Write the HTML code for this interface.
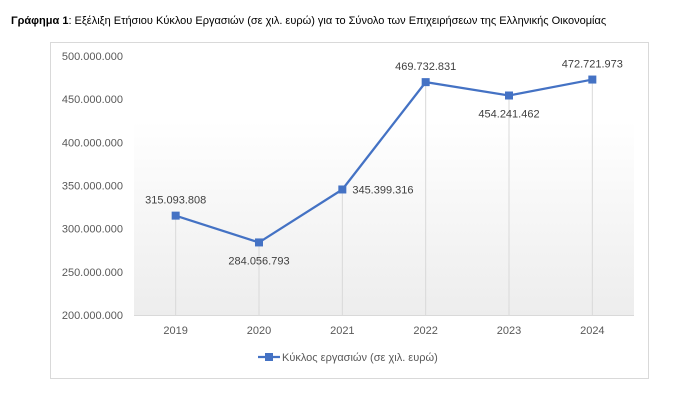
<!DOCTYPE html>
<html><head><meta charset="utf-8"><style>
body{margin:0;width:694px;height:415px;background:#fff;font-family:"Liberation Sans",sans-serif;}
#title{position:absolute;left:11px;top:15px;font-size:11px;color:#000;white-space:nowrap;}
svg{position:absolute;left:0;top:0;}
</style></head><body>
<div id="title"><b>Γράφημα 1</b>: Εξέλιξη Ετήσιου Κύκλου Εργασιών (σε χιλ. ευρώ) για το Σύνολο των Επιχειρήσεων της Ελληνικής Οικονομίας</div>
<svg id="chart" width="694" height="415">
<defs><linearGradient id="bg" x1="0" y1="0" x2="0" y2="1"><stop offset="0" stop-color="#fff"/><stop offset="0.25" stop-color="#fff"/><stop offset="1" stop-color="#ededed"/></linearGradient></defs>
<rect x="50.5" y="42.5" width="598" height="336" fill="#fff" stroke="#d9d9d9"/>
<g id="g"></g>
</svg>
<script>
const categories=["2019","2020","2021","2022","2023","2024"];
const values=[315093808,284056793,345399316,469732831,454241462,472721973];
const labels=["315.093.808","284.056.793","345.399.316","469.732.831","454.241.462","472.721.973"];
const yTicks=[200000000,250000000,300000000,350000000,400000000,450000000,500000000];
const yTickLabels=["200.000.000","250.000.000","300.000.000","350.000.000","400.000.000","450.000.000","500.000.000"];
const NS="http://www.w3.org/2000/svg",g=document.getElementById("g");
const x0=134,x1=634,yTop=56,yBot=315,vMin=200000000,vMax=500000000;
const bw=(x1-x0)/categories.length;
const X=i=>x0+bw*(i+0.5);
const Y=v=>yBot-(v-vMin)/(vMax-vMin)*(yBot-yTop);
function mk(t,a){const e=document.createElementNS(NS,t);for(const k in a)e.setAttribute(k,a[k]);g.appendChild(e);return e;}
let e=mk("rect",{x:x0,y:yTop,width:x1-x0,height:yBot-yTop,fill:"url(#bg)"});


yTicks.forEach((v,i)=>{const t=mk("text",{x:123,y:Y(v)+4,"text-anchor":"end","font-size":"11",fill:"#595959"});t.textContent=yTickLabels[i];

});
e=mk("line",{x1:x0,x2:x1,y1:yBot+0.5,y2:yBot+0.5,stroke:"#d9d9d9"});


categories.forEach((c,i)=>{
const d=mk("line",{x1:X(i),x2:X(i),y1:Y(values[i]),y2:yBot,stroke:"#d9d9d9"});


const t=mk("text",{x:X(i),y:yBot+19,"text-anchor":"middle","font-size":"11",fill:"#595959"});t.textContent=c;

});
e=mk("polyline",{points:values.map((v,i)=>X(i)+","+Y(v)).join(" "),fill:"none",stroke:"#4472c4","stroke-width":"2.25"});


const off=[[0,-12,"middle"],[0,22,"middle"],[10,4,"start"],[0,-12,"middle"],[0,22,"middle"],[0,-12,"middle"]];
values.forEach((v,i)=>{
const m=mk("rect",{x:X(i)-4,y:Y(v)-4,width:8,height:8,fill:"#4472c4"});


const t=mk("text",{x:X(i)+off[i][0],y:Y(v)+off[i][1],"text-anchor":off[i][2],"font-size":"11",fill:"#404040"});t.textContent=labels[i];

});
e=mk("line",{x1:258,x2:280,y1:357,y2:357,stroke:"#4472c4","stroke-width":"2.25"});


e=mk("rect",{x:265,y:353,width:8,height:8,fill:"#4472c4"});


e=mk("text",{x:282,y:361,"font-size":"11",fill:"#595959"});e.textContent="Κύκλος εργασιών (σε χιλ. ευρώ)";


</script>
</body></html>
